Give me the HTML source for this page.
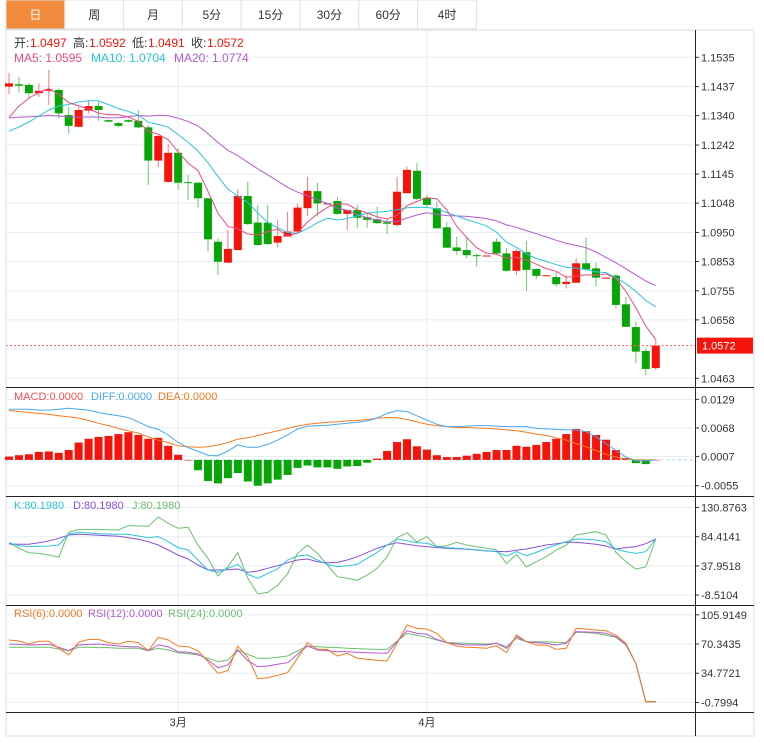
<!DOCTYPE html>
<html><head><meta charset="utf-8"><style>
body{margin:0;background:#fff;width:764px;height:746px;overflow:hidden;font-family:"Liberation Sans","Noto Sans CJK SC",sans-serif}
svg text{font-family:"Liberation Sans","Noto Sans CJK SC",sans-serif}
</style></head><body>
<svg id="c" width="764" height="746" xmlns="http://www.w3.org/2000/svg"></svg>
<script>
const opens=[1.1437,1.1445,1.1443,1.1415,1.1423,1.1426,1.1342,1.1303,1.1357,1.1372,1.1325,1.1315,1.1325,1.1323,1.1301,1.1190,1.1119,1.1216,1.1118,1.1116,1.1064,1.0919,1.0849,1.0891,1.1072,1.0983,1.0983,1.0916,1.0936,1.0953,1.1031,1.1088,1.1044,1.1055,1.1012,1.1025,1.1001,1.0994,1.0984,1.0975,1.1081,1.1156,1.1066,1.1031,1.0967,1.0900,1.0891,1.0874,1.0871,1.0919,1.0880,1.0822,1.0884,1.0828,1.0806,1.0801,1.0778,1.0782,1.0847,1.0830,1.0798,1.0806,1.0710,1.0634,1.0554,1.0497];
const closes=[1.1448,1.1440,1.1415,1.1423,1.1428,1.1348,1.1306,1.1359,1.1372,1.1359,1.1320,1.1306,1.1320,1.1301,1.1190,1.1272,1.1216,1.1116,1.1115,1.1064,1.0927,1.0852,1.0895,1.1072,1.0978,1.0908,1.0911,1.0938,1.0953,1.1033,1.1089,1.1047,1.1047,1.1012,1.1025,1.0999,1.0992,1.0981,1.0979,1.1086,1.1159,1.1062,1.1042,1.0964,1.0899,1.0888,1.0874,1.0871,1.0873,1.0880,1.0822,1.0888,1.0825,1.0805,1.0807,1.0777,1.0785,1.0847,1.0827,1.0799,1.0799,1.0708,1.0635,1.0552,1.0494,1.0572];
const highs=[1.1484,1.1470,1.1448,1.1448,1.1493,1.1431,1.1370,1.1370,1.1392,1.1387,1.1327,1.1320,1.1327,1.1359,1.1309,1.1275,1.1245,1.1231,1.1142,1.1119,1.1066,1.0930,1.0958,1.1094,1.1119,1.1042,1.1042,1.0992,1.1019,1.1047,1.1136,1.1116,1.1047,1.1069,1.1025,1.1042,1.1014,1.1036,1.0997,1.1136,1.1170,1.1183,1.1075,1.1053,1.0986,1.0936,1.0934,1.0880,1.0873,1.0930,1.0897,1.0894,1.0922,1.0830,1.0807,1.0819,1.0808,1.0864,1.0934,1.0849,1.0799,1.0811,1.0735,1.0652,1.0563,1.0592];
const lows=[1.1412,1.1417,1.1398,1.1403,1.1376,1.1331,1.1281,1.1301,1.1348,1.1323,1.1318,1.1301,1.1318,1.1298,1.1108,1.1168,1.1116,1.1092,1.1058,1.1034,1.0886,1.0808,1.0849,1.0891,1.0975,1.0905,1.0908,1.0900,1.0936,1.0953,1.1005,1.1003,1.1044,1.1008,1.0958,1.0964,1.0966,1.0978,1.0944,1.0969,1.1081,1.1058,1.1031,1.0962,1.0899,1.0875,1.0864,1.0836,1.0871,1.0875,1.0819,1.0808,1.0755,1.0794,1.0806,1.0769,1.0763,1.0782,1.0825,1.0769,1.0798,1.0697,1.0633,1.0513,1.0472,1.0491];
const priorCloses=[1.1400,1.1390,1.1385,1.1370,1.1380,1.1375,1.1365,1.1370,1.1360,1.1375,1.1300,1.1250,1.1220,1.1230,1.1215,1.1250,1.1280,1.1330,1.1360];
const priceTicks=[1.1535,1.1437,1.1340,1.1242,1.1145,1.1048,1.0950,1.0853,1.0755,1.0658,1.0463];
const diffVals=[0.0108,0.0108,0.0108,0.0106,0.0106,0.0108,0.0110,0.0108,0.0106,0.0101,0.0097,0.0094,0.0090,0.0081,0.0071,0.0065,0.0053,0.0037,0.0026,0.0018,0.0010,0.0009,0.0019,0.0032,0.0027,0.0027,0.0033,0.0042,0.0053,0.0066,0.0072,0.0073,0.0074,0.0076,0.0078,0.0080,0.0083,0.0089,0.0099,0.0105,0.0103,0.0094,0.0085,0.0076,0.0071,0.0071,0.0072,0.0073,0.0073,0.0072,0.0071,0.0071,0.0071,0.0067,0.0066,0.0065,0.0064,0.0064,0.0060,0.0049,0.0035,0.0020,0.0006,-0.0002,-0.0002,0.0000];
const deaVals=[0.0105,0.0103,0.0101,0.0099,0.0097,0.0094,0.0092,0.0089,0.0084,0.0078,0.0073,0.0067,0.0062,0.0057,0.0049,0.0042,0.0037,0.0030,0.0028,0.0027,0.0028,0.0032,0.0037,0.0044,0.0047,0.0052,0.0057,0.0062,0.0067,0.0072,0.0076,0.0078,0.0080,0.0081,0.0083,0.0084,0.0086,0.0089,0.0090,0.0090,0.0086,0.0081,0.0076,0.0073,0.0071,0.0069,0.0069,0.0068,0.0067,0.0066,0.0064,0.0062,0.0059,0.0055,0.0052,0.0047,0.0042,0.0035,0.0028,0.0020,0.0012,0.0006,0.0002,0.0000,0.0000,0.0000];
const macdVals=[0.0007,0.0010,0.0012,0.0017,0.0018,0.0015,0.0021,0.0037,0.0045,0.0049,0.0051,0.0055,0.0059,0.0053,0.0045,0.0047,0.0030,0.0011,0.0000,-0.0022,-0.0045,-0.0050,-0.0039,-0.0028,-0.0046,-0.0055,-0.0050,-0.0042,-0.0032,-0.0017,-0.0012,-0.0016,-0.0016,-0.0019,-0.0014,-0.0013,-0.0006,0.0003,0.0019,0.0038,0.0044,0.0029,0.0022,0.0010,0.0006,0.0006,0.0009,0.0013,0.0017,0.0021,0.0021,0.0030,0.0028,0.0032,0.0038,0.0045,0.0055,0.0066,0.0061,0.0053,0.0043,0.0021,0.0004,-0.0007,-0.0009,0.0000];
const macdTicks=[0.0129,0.0068,0.0007,-0.0055];
const kVals=[74.9,70.1,68.6,69.1,69.6,71.2,88.7,91.4,90.3,89.2,88.7,88.2,88.2,85.5,82.9,84.5,76.5,67.0,63.2,47.3,31.4,27.7,34.1,40.4,24.5,18.2,26.1,33.0,47.3,53.7,55.3,47.3,40.4,36.7,38.3,40.4,50.0,59.5,71.2,80.8,78.1,74.9,73.9,68.6,67.0,65.9,64.8,63.8,62.2,60.6,53.7,60.6,54.2,59.5,65.9,71.2,76.5,80.8,80.2,79.2,76.5,64.8,60.6,57.9,60.6,80.8];
const dVals=[72.8,72.3,72.3,74.9,77.6,81.8,87.1,88.2,87.6,86.6,86.0,85.0,82.9,80.2,76.5,71.2,63.2,55.3,48.9,39.4,31.4,31.4,31.9,33.0,27.7,29.8,34.1,38.3,43.1,47.3,48.9,44.7,43.1,43.6,47.3,52.6,59.5,65.9,71.2,74.9,72.3,70.1,68.6,67.0,65.9,65.4,64.3,63.2,61.7,61.1,60.6,62.7,64.8,68.0,71.2,73.3,75.5,75.5,73.9,72.3,69.6,64.8,67.0,68.6,73.3,80.8];
const jVals=[74.9,65.9,59.0,57.9,55.3,52.1,91.4,96.1,96.1,96.1,95.6,95.1,102.0,101.4,100.9,115.8,105.7,97.7,99.3,71.1,49.9,21.9,36.7,59.0,18.2,-6.8,-4.2,6.9,25.5,57.9,71.1,57.9,39.4,20.8,18.2,15.0,23.5,34.1,52.6,82.9,90.8,76.0,84.5,68.6,70.1,75.5,71.1,68.6,65.9,63.2,41.5,56.3,36.2,44.7,52.6,63.2,71.1,87.1,89.8,92.4,87.1,59.5,44.7,33.0,36.2,80.8];
const kdjTicks=[130.8763,84.4141,37.9518,-8.5104];
const rsi6=[75.2,74.0,70.3,73.6,73.6,65.1,56.9,72.4,76.0,76.0,72.0,70.3,73.6,72.0,62.2,78.5,75.2,67.9,67.1,62.2,48.8,34.6,37.9,67.9,54.1,28.1,29.3,32.2,35.4,52.9,72.0,63.8,63.8,55.7,59.0,52.9,51.7,50.4,49.6,71.2,93.5,89.4,88.6,83.3,72.0,67.9,66.3,65.9,65.1,68.3,59.8,81.3,73.2,69.1,69.1,63.8,65.1,89.4,88.6,87.4,86.6,81.3,71.2,46.8,0.1,0.1];
const rsi12=[70.3,69.9,69.1,69.5,69.9,66.3,62.2,69.1,69.9,70.3,69.1,67.9,67.1,67.1,62.2,69.1,67.1,61.0,60.2,58.2,50.9,41.5,44.8,63.0,50.0,42.7,43.5,45.6,47.6,57.8,67.9,63.0,62.2,61.0,61.0,60.2,59.8,59.4,59.0,73.2,86.6,83.3,82.1,76.0,72.0,70.3,69.1,69.1,69.1,71.2,65.1,79.3,73.2,72.0,71.2,69.1,71.2,85.4,85.0,84.6,83.3,79.3,69.9,46.8,0.1,0.1];
const rsi24=[66.3,66.3,66.3,66.3,66.3,64.3,62.2,66.3,66.3,65.9,65.9,65.1,65.1,65.1,62.2,65.1,63.0,59.8,58.6,56.9,52.9,48.8,50.9,63.0,57.8,52.9,52.9,54.1,55.7,61.8,67.9,67.1,66.3,65.9,65.1,64.7,64.3,63.8,63.8,73.6,83.3,80.9,78.5,75.2,72.0,71.6,71.2,70.7,70.3,71.2,67.1,77.2,73.2,73.2,73.2,72.4,72.0,84.6,84.2,83.3,80.9,78.5,69.1,46.8,0.1,0.1];
const rsiTicks=[105.9149,70.3435,34.7721,-0.7994];
const monthLabels=["3月","4月"];
const monthIdx=[17,42];
const tabs=["日","周","月","5分","15分","30分","60分","4时"];

const NS="http://www.w3.org/2000/svg";
const svg=document.getElementById('c');
function el(tag,attrs,parent){const e=document.createElementNS(NS,tag);for(const k in attrs)e.setAttribute(k,attrs[k]);(parent||svg).appendChild(e);return e;}
function txt(s,x,y,attrs,parent){const t=el('text',Object.assign({x:x,y:y},attrs),parent);t.textContent=s;return t;}
const L=6,R=695;
const xAt=i=>9+i*9.95;
const yP=p=>57.3+(1.1535-p)*2994;
const yM=v=>459.9-v*4695;
const yK=v=>536.7-(v-84.4141)*0.6285;
const yR=v=>644-(v-70.3435)*0.821;

const tabG=el('g',{});


tabs.forEach((t,i)=>{
  const x=6+i*58.8;
  const r=el('rect',{x:x,y:0,width:58.8,height:29,fill:i==0?'#f28b3b':'#fff',stroke:'#e2e2e2','stroke-width':1},tabG);
  
  
  const tt=txt(t,x+29.4,19,{'text-anchor':'middle','font-size':12,fill:i==0?'#fff':'#333'},tabG);
  
  
});
el('rect',{x:6,y:30,width:748,height:706,fill:'none',stroke:'#dcdcdc','stroke-width':1});

const grid=el('g',{stroke:'#e6edf3','stroke-width':1});


priceTicks.concat([1.0560]).forEach(p=>el('line',{x1:L,x2:R,y1:yP(p),y2:yP(p)},grid));
macdTicks.forEach(v=>el('line',{x1:L,x2:R,y1:yM(v),y2:yM(v)},grid));
kdjTicks.forEach(v=>el('line',{x1:L,x2:R,y1:yK(v),y2:yK(v)},grid));
rsiTicks.forEach(v=>el('line',{x1:L,x2:R,y1:yR(v),y2:yR(v)},grid));
monthIdx.forEach(i=>el('line',{x1:xAt(i),x2:xAt(i),y1:30,y2:712},grid));

const ax=el('g',{stroke:'#222','stroke-width':1});


[387.5,496.5,605.5,712.5].forEach(y=>el('line',{x1:L,x2:754,y1:y,y2:y},ax));
el('line',{x1:695.5,x2:695.5,y1:30,y2:736},ax);

function axisLabels(ticks,yf,fmt,name){
  const g=el('g',{});
  
  
  ticks.forEach(v=>{el('line',{x1:695,x2:699,y1:yf(v),y2:yf(v),stroke:'#333'},g);txt(fmt(v),701,yf(v)+4,{'font-size':11,fill:'#333'},g);});
}
axisLabels(priceTicks,yP,v=>v.toFixed(4),'price-axis');
axisLabels(macdTicks,yM,v=>v.toFixed(4),'macd-axis');
axisLabels(kdjTicks,yK,v=>v.toFixed(4),'kdj-axis');
axisLabels(rsiTicks,yR,v=>v.toFixed(4),'rsi-axis');

const cg=el('g',{});


for(let i=0;i<closes.length;i++){
  const up=closes[i]>=opens[i];
  const col=up?'#f4140c':'#06a606';
  const x=xAt(i);
  const w=el('line',{x1:x,x2:x,y1:yP(highs[i]),y2:yP(lows[i]),stroke:up?'#f77':'#6c6','stroke-width':1},cg);
  
  
  const t=yP(Math.max(opens[i],closes[i])),b=yP(Math.min(opens[i],closes[i]));
  const r=el('rect',{x:x-4,y:t,width:8,height:Math.max(1,b-t),fill:col},cg);
  
  
}
const all=priorCloses.concat(closes);
function ma(n){return closes.map((c,i)=>{const j=i+priorCloses.length;let s=0;for(let k=j-n+1;k<=j;k++)s+=all[k];return s/n;});}
function poly(vals,yf,color,name,w){
  const pts=vals.map((v,i)=>xAt(i).toFixed(1)+','+yf(v).toFixed(1)).join(' ');
  const p=el('polyline',{points:pts,fill:'none',stroke:color,'stroke-width':w||1});
  
  
}
poly(ma(20),yP,'#b45ad0','ma20-line');
poly(ma(10),yP,'#2ec4dc','ma10-line');
poly(ma(5),yP,'#ee4a80','ma5-line');

const lp=closes[closes.length-1];
const dl=el('line',{x1:L,x2:R,y1:yP(lp),y2:yP(lp),stroke:'#f66','stroke-dasharray':'2,2'});


const lb=el('rect',{x:697,y:yP(lp)-8,width:56,height:16,fill:'#f4140c'});


txt(lp.toFixed(4),702,yP(lp)+4,{'font-size':11,fill:'#fff'});

el('line',{x1:L,x2:R,y1:yM(0),y2:yM(0),stroke:'#9fd8e8','stroke-dasharray':'3,3'});
const mg=el('g',{});


macdVals.forEach((v,i)=>{
  const y0=yM(0),y1=yM(v);
  const r=el('rect',{x:xAt(i)-4,y:Math.min(y0,y1),width:8,height:Math.max(0.5,Math.abs(y1-y0)),fill:v>=0?'#f4140c':'#06a606'},mg);
  
  
});
poly(deaVals,yM,'#f47a20','dea-line');
poly(diffVals,yM,'#4aa8f0','diff-line');

poly(jVals,yK,'#6cbf6c','j-line');
poly(dVals,yK,'#8a50d8','d-line');
poly(kVals,yK,'#2ec4dc','k-line');
poly(rsi24,yR,'#6cbf6c','rsi24-line');
poly(rsi12,yR,'#b45ad0','rsi12-line');
poly(rsi6,yR,'#f47a20','rsi6-line');

monthLabels.forEach((m,i)=>{const t=txt(m,xAt(monthIdx[i]),726,{'text-anchor':'middle','font-size':11,fill:'#333'});

});

const lg=el('g',{'font-size':12});


[['开:',14,'#333'],['1.0497',30,'#f4140c'],['高:',73,'#333'],['1.0592',89,'#f4140c'],['低:',132,'#333'],['1.0491',148,'#f4140c'],['收:',191,'#333'],['1.0572',207,'#f4140c']].forEach(a=>txt(a[0],a[1],47,{fill:a[2]},lg));
const ml=el('g',{'font-size':12});


txt('MA5: 1.0595',14,62,{fill:'#ee4a80'},ml);
txt('MA10: 1.0704',91,62,{fill:'#2ec4dc'},ml);
txt('MA20: 1.0774',174,62,{fill:'#b45ad0'},ml);
const mcl=el('g',{'font-size':11});


txt('MACD:0.0000',14,400,{fill:'#f05050'},mcl);
txt('DIFF:0.0000',91,400,{fill:'#4aa8f0'},mcl);
txt('DEA:0.0000',158,400,{fill:'#f47a20'},mcl);
const kl=el('g',{'font-size':11});


txt('K:80.1980',14,509,{fill:'#2ec4dc'},kl);
txt('D:80.1980',73,509,{fill:'#8a50d8'},kl);
txt('J:80.1980',132,509,{fill:'#6cbf6c'},kl);
const rl=el('g',{'font-size':11});


txt('RSI(6):0.0000',14,617,{fill:'#f47a20'},rl);
txt('RSI(12):0.0000',88,617,{fill:'#b45ad0'},rl);
txt('RSI(24):0.0000',168,617,{fill:'#6cbf6c'},rl);
</script>
</body></html>
